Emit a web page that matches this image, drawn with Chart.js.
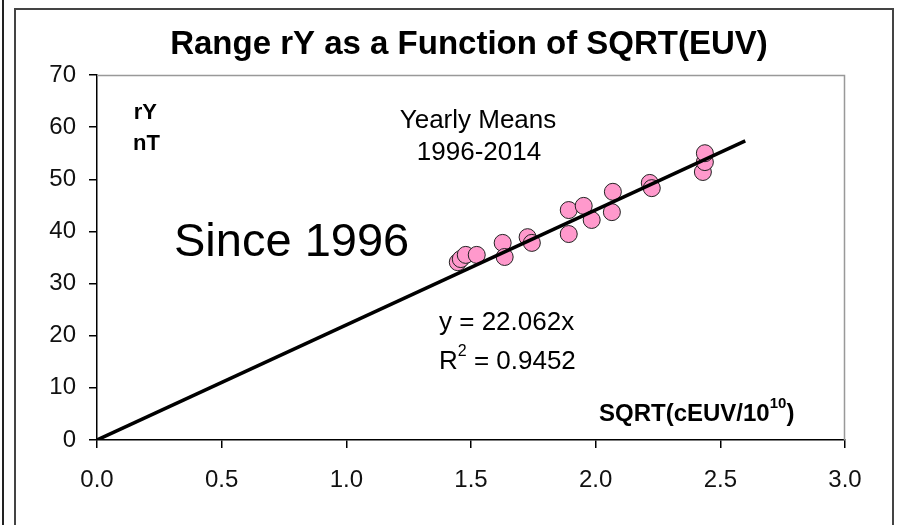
<!DOCTYPE html>
<html>
<head>
<meta charset="utf-8">
<script src="https://cdn.jsdelivr.net/npm/chart.js@4/dist/chart.umd.min.js"></script>
<style>
  html, body { margin: 0; padding: 0; background: #fff; }
  #wrap { width: 897px; height: 525px; position: relative; }
</style>
</head>
<body>
<div id="wrap"><canvas id="euvChart" width="897" height="525"></canvas></div>
<script>
// yearly means 1996-2014: sqrt(cEUV/1e10) vs range rY (nT)
var sqrtEuv = [1.447, 1.459, 1.479, 1.523, 1.627, 1.635, 1.727, 1.744, 1.892, 1.892,
               1.952, 1.984, 2.065, 2.069, 2.217, 2.225, 2.430, 2.438, 2.438];
var rangeRY = [34.1, 34.7, 35.5, 35.5, 37.8, 35.1, 38.9, 37.8, 44.1, 39.5,
               44.9, 42.2, 43.7, 47.6, 49.3, 48.3, 51.4, 53.3, 55.0];

// fitted line y = 22.062x
var slope = 22.062;
var fitX = [0, 2.6];

var xTicks = [0, 0.5, 1.0, 1.5, 2.0, 2.5, 3.0];
var yTicks = [0, 10, 20, 30, 40, 50, 60, 70];

var points = sqrtEuv.map(function (x, i) { return { x: x, y: rangeRY[i] }; });
var fitLine = fitX.map(function (x) { return { x: x, y: slope * x }; });

var FONT = '"Liberation Sans", Arial, sans-serif';

// frame, plot box and text labels
var decorations = {
    id: 'decorations',
    beforeDraw: function (chart) {
        var c = chart.ctx;
        c.save();
        c.fillStyle = '#fff';
        c.fillRect(0, 0, chart.width, chart.height);
        c.strokeStyle = '#222';
        c.lineWidth = 2;
        c.beginPath();
        c.moveTo(3, 0); c.lineTo(3, 525);
        c.stroke();
        c.strokeStyle = '#444';
        c.beginPath();
        c.moveTo(15, 530); c.lineTo(15, 9); c.lineTo(893, 9); c.lineTo(893, 530);
        c.stroke();
        c.restore();
    },
    afterDatasetsDraw: function (chart) {
        var c = chart.ctx;
        var a = chart.chartArea;
        c.save();
        // light top/right edges of the plot box
        c.strokeStyle = '#999';
        c.lineWidth = 1.5;
        c.beginPath();
        c.moveTo(a.left, a.top + 0.5);
        c.lineTo(a.right - 0.5, a.top + 0.5);
        c.lineTo(a.right - 0.5, a.bottom);
        c.stroke();

        c.fillStyle = '#000';
        c.textBaseline = 'middle';
        c.textAlign = 'center';
        c.font = 'bold 33px ' + FONT;
        c.fillText('Range rY as a Function of SQRT(EUV)', 469, 45);

        c.font = 'bold 22px ' + FONT;
        c.textAlign = 'right';
        c.fillText('rY', 157, 113);
        c.fillText('nT', 160, 144);

        c.font = '26px ' + FONT;
        c.textAlign = 'center';
        c.fillText('Yearly Means', 478, 121);
        c.fillText('1996-2014', 479, 153);

        c.font = '47px ' + FONT;
        c.textAlign = 'left';
        c.fillText('Since 1996', 174, 243);

        c.font = '26px ' + FONT;
        c.fillText('y = 22.062x', 439, 323);
        c.fillText('R', 439, 362);
        var rw = c.measureText('R').width;
        c.font = '16px ' + FONT;
        c.fillText('2', 439 + rw, 352);
        var tw = c.measureText('2').width;
        c.font = '26px ' + FONT;
        c.fillText(' = 0.9452', 439 + rw + tw, 362);

        c.font = 'bold 24px ' + FONT;
        var base = 'SQRT(cEUV/10';
        c.fillText(base, 599, 414);
        var bw = c.measureText(base).width;
        c.font = 'bold 15px ' + FONT;
        c.fillText('10', 599 + bw, 404);
        var sw = c.measureText('10').width;
        c.font = 'bold 24px ' + FONT;
        c.fillText(')', 599 + bw + sw, 414);
        c.restore();
    }
};

var ctx = document.getElementById('euvChart').getContext('2d');
new Chart(ctx, {
    type: 'scatter',
    data: {
        datasets: [{
            type: 'line',
            data: fitLine,
            borderColor: '#000',
            borderWidth: 3.5,
            pointRadius: 0,
            fill: false,
            order: 0
        }, {
            data: points,
            backgroundColor: '#ff99cc',
            borderColor: '#222',
            borderWidth: 1,
            pointRadius: 8.5,
            pointHoverRadius: 8.5,
            order: 1
        }]
    },
    options: {
        responsive: false,
        animation: false,
        layout: { padding: { top: 75, right: 52, left: 0, bottom: 0 } },
        plugins: {
            legend: { display: false },
            tooltip: { enabled: false }
        },
        scales: {
            x: {
                type: 'linear',
                min: 0,
                max: 3,
                afterBuildTicks: function (scale) {
                    scale.ticks = xTicks.map(function (v) { return { value: v }; });
                },
                afterFit: function (scale) { scale.height = 85; },
                border: { display: true, color: '#000', width: 1.5 },
                grid: { drawOnChartArea: false, drawTicks: true, tickLength: 8, color: '#000', lineWidth: 1.5 },
                ticks: {
                    padding: 18,
                    color: '#111',
                    font: { family: FONT, size: 24 },
                    callback: function (v) { return v.toFixed(1); }
                }
            },
            y: {
                type: 'linear',
                min: 0,
                max: 70,
                afterBuildTicks: function (scale) {
                    scale.ticks = yTicks.map(function (v) { return { value: v }; });
                },
                afterFit: function (scale) { scale.width = 97; },
                border: { display: true, color: '#000', width: 1.5 },
                grid: { drawOnChartArea: false, drawTicks: true, tickLength: 8, color: '#000', lineWidth: 1.5 },
                ticks: {
                    padding: 13,
                    color: '#111',
                    font: { family: FONT, size: 24 }
                }
            }
        }
    },
    plugins: [decorations]
});
</script>
</body>
</html>
